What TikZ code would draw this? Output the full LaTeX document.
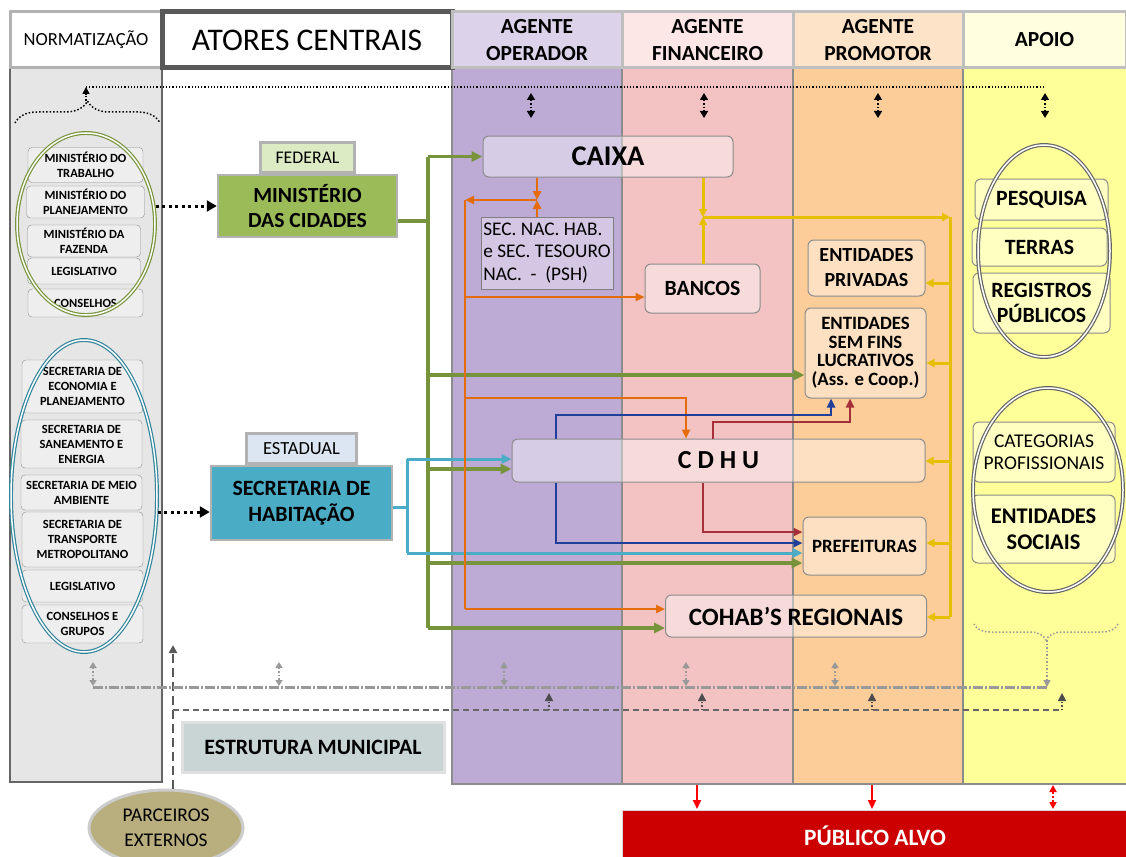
\documentclass[tikz,border=0pt]{standalone}
\usepackage{fontspec}
\setmainfont{Carlito}
\usepackage{xcolor}
\usepackage{tikz}
\usetikzlibrary{arrows.meta, positioning, shapes.geometric, decorations.pathreplacing}

\definecolor{normbg}{HTML}{E6E6E6}
\definecolor{operbg}{HTML}{BDAAD5}
\definecolor{finbg}{HTML}{F2C3C2}
\definecolor{prombg}{HTML}{FCCC99}
\definecolor{apoiobg}{HTML}{FFFF99}
\definecolor{operhd}{HTML}{DCD2EA}
\definecolor{finhd}{HTML}{FDE6E6}
\definecolor{promhd}{HTML}{FDE3C8}
\definecolor{apoiohd}{HTML}{FFFFE0}
\definecolor{fedgreen}{HTML}{9BBB59}
\definecolor{fedlight}{HTML}{DDEBC4}
\definecolor{estblue}{HTML}{4BACC6}
\definecolor{estlight}{HTML}{DCE6F2}
\definecolor{lgreen}{HTML}{77933C}
\definecolor{lcyan}{HTML}{4BACC6}
\definecolor{lorange}{HTML}{E46C0A}
\definecolor{lnavy}{HTML}{1F3F9A}
\definecolor{lmaroon}{HTML}{A5303A}
\definecolor{lyellow}{HTML}{E6C000}
\definecolor{tealring}{HTML}{31849B}
\definecolor{munbox}{HTML}{C9D5D5}
\definecolor{parcfill}{HTML}{B9AE7E}
\definecolor{pubred}{HTML}{CC0000}

\begin{document}
\begin{tikzpicture}[x=1pt, y=-1pt,
  colbox/.style={draw=black!45, line width=1.5pt},
  header/.style={rectangle, draw=black!25, line width=3pt, inner sep=0pt, align=center,
                 minimum height=56pt, font=\fontsize{21.5}{27}\selectfont\bfseries},
  normbox/.style={rectangle, rounded corners=4pt, draw=black!45, fill=white, fill opacity=0.35,
                  text opacity=1, inner sep=1pt, align=center,
                  font=\fontsize{12.5}{15}\selectfont\bfseries},
  actbox/.style={rectangle, rounded corners=6pt, draw=black!45, line width=1pt, fill=white,
                 fill opacity=0.4, text opacity=1, inner sep=1pt, align=center,
                 font=\fontsize{20}{25}\selectfont\bfseries},
  apbox/.style={actbox, font=\fontsize{21.8}{25}\selectfont\bfseries},
  govbox/.style={rectangle, draw=black!30, line width=2.5pt, inner sep=1pt, align=center},
  ring/.style={ellipse, draw, line width=1.2pt, double=white, double distance=1.5pt, inner sep=0pt},
  dotarrow/.style={line width=3pt, dash pattern=on 3pt off 3.5pt, -{Triangle[length=10pt,width=11pt]}},
  gline/.style={draw=lgreen, line width=3.5pt, -{Triangle[length=11pt,width=10pt]}},
  cline/.style={draw=lcyan, line width=3pt, -{Triangle[length=10pt,width=9pt]}},
  oline/.style={draw=lorange, line width=2.5pt, -{Triangle[length=9pt,width=8pt]}},
  nline/.style={draw=lnavy, line width=2.5pt, -{Triangle[length=9pt,width=8pt]}},
  mline/.style={draw=lmaroon, line width=2.5pt, -{Triangle[length=9pt,width=8pt]}},
  yline/.style={draw=lyellow, line width=3pt, -{Triangle[length=8pt,width=8pt]}},
  topdbl/.style={line width=1.5pt, dotted, {Triangle[length=7pt,width=8pt]}-{Triangle[length=7pt,width=8pt]}},
  lowdbl/.style={draw=black!40, line width=1.5pt, dotted, {Triangle[length=6pt,width=7pt]}-{Triangle[length=6pt,width=7pt]}},
  uparrow/.style={draw=black!70, line width=1.5pt, dotted, -{Triangle[length=8pt,width=8pt]}},
  redarrow/.style={draw=red, line width=2pt, -{Triangle[length=9pt,width=8pt]}}
]
\useasboundingbox (0,0) rectangle (1126,856);

% column backgrounds
\draw[colbox, draw=black!60, line width=2pt, fill=normbg] (10,68) rectangle (162,782);
\draw[colbox, fill=operbg] (452,68) rectangle (622,784);
\draw[colbox, fill=finbg] (622,68) rectangle (793,784);
\draw[colbox, fill=prombg] (793,68) rectangle (963,784);
\draw[colbox, fill=apoiobg] (963,68) rectangle (1130,784);

% headers
\node[header, fill=white, draw=black!30, minimum width=152pt,
      font=\fontsize{18.5}{20}\selectfont] (hnorm) at (86,40) {NORMATIZAÇÃO};
\node[header, fill=white, draw=black!65, line width=5pt, minimum width=290pt,
      font=\fontsize{31.5}{34}\selectfont] (hatores) at (307,40) {ATORES CENTRAIS};
\node[header, fill=operhd, minimum width=170pt] (hoper) at (537,40) {AGENTE\\OPERADOR};
\node[header, fill=finhd, minimum width=171pt] (hfin) at (707.5,40) {AGENTE\\FINANCEIRO};
\node[header, fill=promhd, minimum width=170pt] (hprom) at (878,40) {AGENTE\\PROMOTOR};
\node[header, fill=apoiohd, minimum width=163pt] (hapoio) at (1044.5,40) {APOIO};

% normatizacao
\node[normbox, minimum width=115pt, minimum height=35pt] (mtrab) at (85.5,165) {MINISTÉRIO DO\\TRABALHO};
\node[normbox, minimum width=118pt, minimum height=32pt] (mplan) at (85.5,202) {MINISTÉRIO DO\\PLANEJAMENTO};
\node[normbox, minimum width=113pt, minimum height=32pt] (mfaz) at (84,241) {MINISTÉRIO DA\\FAZENDA};
\node[normbox, minimum width=113pt, minimum height=26pt] (legf) at (84,271) {LEGISLATIVO};
\node[normbox, minimum width=115pt, minimum height=28pt] (consf) at (85.5,303) {CONSELHOS};
\node[normbox, minimum width=121pt, minimum height=53pt] (secec) at (82.5,386.5) {SECRETARIA DE\\ECONOMIA E\\PLANEJAMENTO};
\node[normbox, minimum width=121pt, minimum height=48pt] (secsan) at (81.5,444) {SECRETARIA DE\\SANEAMENTO E\\ENERGIA};
\node[normbox, minimum width=121pt, minimum height=35pt] (secmeio) at (81.5,492.5) {SECRETARIA DE MEIO\\AMBIENTE};
\node[normbox, minimum width=121pt, minimum height=55pt] (sectrans) at (82.5,539.5) {SECRETARIA DE\\TRANSPORTE\\METROPOLITANO};
\node[normbox, minimum width=121pt, minimum height=32pt] (legs) at (82.5,586) {LEGISLATIVO};
\node[normbox, minimum width=121pt, minimum height=38pt] (consg) at (82.5,624) {CONSELHOS E\\GRUPOS};
\node[ring, draw=lgreen, minimum width=138pt, minimum height=182pt] (gring) at (86,224) {};
\node[ring, draw=tealring, minimum width=146pt, minimum height=312pt] (tring) at (84,496) {};

% atores centrais
\node[govbox, fill=fedgreen, minimum width=179pt, minimum height=62pt,
      font=\fontsize{21.6}{25.5}\selectfont\bfseries] (mdc) at (307.5,206) {MINISTÉRIO\\DAS CIDADES};
\node[govbox, fill=fedlight, minimum width=94pt, minimum height=30pt,
      font=\fontsize{17.8}{20}\selectfont, above=0pt of mdc] (fed) {FEDERAL};
\node[govbox, fill=estblue, minimum width=181pt, minimum height=74pt,
      font=\fontsize{21.8}{25.5}\selectfont\bfseries] (sechab) at (301.5,503) {SECRETARIA DE\\HABITAÇÃO};
\node[govbox, fill=estlight, minimum width=110pt, minimum height=30pt,
      font=\fontsize{18.5}{20}\selectfont, above=0pt of sechab] (est) {ESTADUAL};
\draw[dotarrow] (gring.east |- mdc.west) -- (mdc.west);
\draw[dotarrow] ([yshift=-9pt]tring.east |- sechab.west) -- ([yshift=-9pt]sechab.west);

% agentes
\node[actbox, minimum width=250pt, minimum height=41pt,
      font=\fontsize{28.5}{30}\selectfont\bfseries] (caixa) at (608,156.5) {CAIXA};
\node[rectangle, draw=black!50, line width=1pt, fill=white, fill opacity=0.35, text opacity=1,
      minimum width=132pt, minimum height=72pt, align=left, inner sep=1pt,
      font=\fontsize{19.3}{22.5}\selectfont] (secnac) at (547,253) {SEC. NAC. HAB.\\e SEC. TESOURO\\NAC.~~-~~(PSH)};
\node[actbox, minimum width=115pt, minimum height=49pt,
      font=\fontsize{21.7}{24}\selectfont\bfseries] (bancos) at (702.5,288.5) {BANCOS};
\node[actbox, minimum width=117pt, minimum height=56pt] (entpriv) at (866.5,268) {ENTIDADES\\PRIVADAS};
\node[actbox, minimum width=121pt, minimum height=90pt,
      font=\fontsize{18.8}{18.5}\selectfont\bfseries] (entsem) at (865.5,353) {ENTIDADES\\SEM FINS\\LUCRATIVOS\\(Ass. e Coop.)};
\node[actbox, minimum width=413pt, minimum height=43pt,
      font=\fontsize{26}{28}\selectfont\bfseries] (cdhu) at (718.5,460.5) {C D H U};
\node[actbox, minimum width=123pt, minimum height=58pt,
      font=\fontsize{18.8}{20}\selectfont\bfseries] (pref) at (864.5,546) {PREFEITURAS};
\node[actbox, minimum width=261pt, minimum height=42pt,
      font=\fontsize{25}{27}\selectfont\bfseries] (cohab) at (796,616) {COHAB’S REGIONAIS};

% apoio
\node[apbox, minimum width=133pt, minimum height=41pt] (pesq) at (1041.5,199.5) {PESQUISA};
\node[apbox, minimum width=135pt, minimum height=38pt] (terras) at (1039.5,247) {TERRAS};
\node[apbox, minimum width=137pt, minimum height=60pt] (regpub) at (1041.5,303) {REGISTROS\\PÚBLICOS};
\node[apbox, minimum width=142pt, minimum height=60pt,
      font=\fontsize{19.5}{22}\selectfont] (catprof) at (1044,452) {CATEGORIAS\\PROFISSIONAIS};
\node[apbox, minimum width=143pt, minimum height=68pt,
      font=\fontsize{22.4}{26.5}\selectfont\bfseries] (entsoc) at (1043.5,529) {ENTIDADES\\SOCIAIS};
\node[ring, draw=black!60, minimum width=132pt, minimum height=212pt] (aring1) at (1044,251) {};
\node[ring, draw=black!60, minimum width=150pt, minimum height=204pt] (aring2) at (1048,490) {};

% lower part
\node[govbox, fill=munbox, draw=black!12, line width=3pt, minimum width=262pt, minimum height=50pt,
      font=\fontsize{21.9}{24}\selectfont\bfseries] (estmun) at (313,747) {ESTRUTURA MUNICIPAL};
\node[rectangle, fill=pubred, draw=black!15, line width=1pt, minimum width=506pt, minimum height=52pt,
      text=white, font=\fontsize{23.4}{26}\selectfont\bfseries] (pub) at (875,836) {PÚBLICO ALVO};
\node[ellipse, fill=parcfill, draw=black!20, line width=3pt, minimum width=154pt, minimum height=76pt,
      align=center, font=\fontsize{19.4}{25}\selectfont] (parc) at (166,828) {PARCEIROS\\EXTERNOS};

% green links (federal)
\coordinate (g0) at (428,221);
\coordinate (g1) at (428,156.5);
\coordinate (g2) at (428,375);
\coordinate (g3) at (428,469);
\coordinate (g4) at (428,563);
\coordinate (g5) at (428,628);
\draw[gline, -] (g0 -| mdc.east) -- (g0);
\draw[gline, -] (g1) -- (g5);
\draw[gline] (g1) -- (caixa.west);
\draw[gline] (g2) -- (g2 -| entsem.west);
\draw[gline] (g3) -- (g3 -| cdhu.west);
\draw[gline] (g4) -- (g4 -| pref.west);
\draw[gline] (g5) -- (g5 -| cohab.west);

% cyan links (estadual)
\coordinate (c0) at (407,507);
\coordinate (c1) at (407,459);
\coordinate (c2) at (407,553);
\draw[cline, -] (c0 -| sechab.east) -- (c0);
\draw[cline, -] (c1) -- (c2);
\draw[cline] (c1) -- (c1 -| cdhu.west);
\draw[cline] (c2) -- (c2 -| pref.west);

% orange links
\coordinate (oj) at (537,200);
\coordinate (o0) at (465,200);
\coordinate (o1) at (465,297);
\coordinate (o2) at (465,398);
\coordinate (o2b) at (686,398);
\coordinate (o3) at (465,609);
\draw[oline] (caixa.south -| oj) -- (oj);
\draw[oline] (secnac.north -| oj) -- (oj);
\draw[oline] (oj) -- (o0);
\draw[oline, -] (o0) -- (o3);
\draw[oline] (o1) -- (o1 -| bancos.west);
\draw[oline] (o2) -- (o2b) -- (o2b |- cdhu.north);
\draw[oline] (o3) -- (o3 -| cohab.west);

% cdhu links
\coordinate (n1) at (556,415);
\coordinate (n2) at (831,415);
\coordinate (n3) at (556,543);
\draw[nline] (n1 |- cdhu.north) -- (n1) -- (n2) -- (n2 |- entsem.south);
\draw[nline] (n3 |- cdhu.south) -- (n3) -- (n3 -| pref.west);
\coordinate (m1) at (713,422);
\coordinate (m2) at (850,422);
\coordinate (m3) at (703,532);
\draw[mline] (m1 |- cdhu.north) -- (m1) -- (m2) -- (m2 |- entsem.south);
\draw[mline] (m3 |- cdhu.south) -- (m3) -- (m3 -| pref.west);

% yellow links
\coordinate (yj) at (703,217);
\coordinate (y0) at (950,217);
\coordinate (y1) at (950,283);
\coordinate (y2) at (950,363);
\coordinate (y3) at (950,461);
\coordinate (y4) at (950,543);
\coordinate (y5) at (950,617);
\draw[yline] (caixa.south -| yj) -- (yj);
\draw[yline] (bancos.north -| yj) -- (yj);
\draw[yline] (yj) -- (y0);
\draw[yline, -] (y0) -- (y5);
\draw[yline] (y1) -- (y1 -| entpriv.east);
\draw[yline] (y2) -- (y2 -| entsem.east);
\draw[yline] (y3) -- (y3 -| cdhu.east);
\draw[yline] (y4) -- (y4 -| pref.east);
\draw[yline] (y5) -- (y5 -| cohab.east);

% top dotted links
\coordinate (tl) at (86,87);
\coordinate (tr) at (1045,87);
\coordinate (btip) at (86,101);
\draw[line width=1.2pt, dotted] (tl) -- (tr);
\draw[line width=1.5pt, dotted, decorate, decoration={brace, amplitude=22pt}] (15,123) -- (160,123);
\draw[line width=1.5pt, dotted, -{Triangle[length=7pt,width=7pt]}] (btip) -- (tl);
\foreach \x in {531,704,878,1045}
  \draw[topdbl] (\x,93) -- (\x,118);

% lower dashed links
\coordinate (pv) at (173,645);
\draw[draw=black!65, line width=2pt, dash pattern=on 9pt off 5pt, -{Triangle[length=8pt,width=8pt]}] (pv |- parc.north) -- (pv);
\coordinate (dl) at (93,687);
\coordinate (dr) at (1047,687);
\draw[draw=black!40, line width=3pt, dash pattern=on 10pt off 2pt on 2pt off 2pt] (dl) -- (dr);
\foreach \x in {93,279,504,686,835}
  \draw[lowdbl] (\x,662) -- (\x,686);
\draw[draw=black!40, line width=1.5pt, dotted, decorate, decoration={brace, amplitude=16pt}] (1118,624) -- (974,624);
\coordinate (atip) at (1047,640);
\draw[draw=black!40, line width=1.5pt, dotted, -{Triangle[length=7pt,width=7pt]}] (atip) -- (dr);
\coordinate (ml) at (173,710);
\coordinate (mr) at (1062,710);
\draw[draw=black!60, line width=2pt, dash pattern=on 6pt off 4pt] (ml) -- (mr);
\foreach \x in {549,702,872,1062}
  \draw[uparrow] (\x,710) -- (\x,693);

% publico alvo
\foreach \x in {697,872}
  \draw[redarrow] (\x,785) -- (\x,809);
\draw[redarrow, dotted, {Triangle[length=7pt,width=7pt]}-{Triangle[length=7pt,width=7pt]}] (1053,785) -- (1053,809);
\end{tikzpicture}
\end{document}
